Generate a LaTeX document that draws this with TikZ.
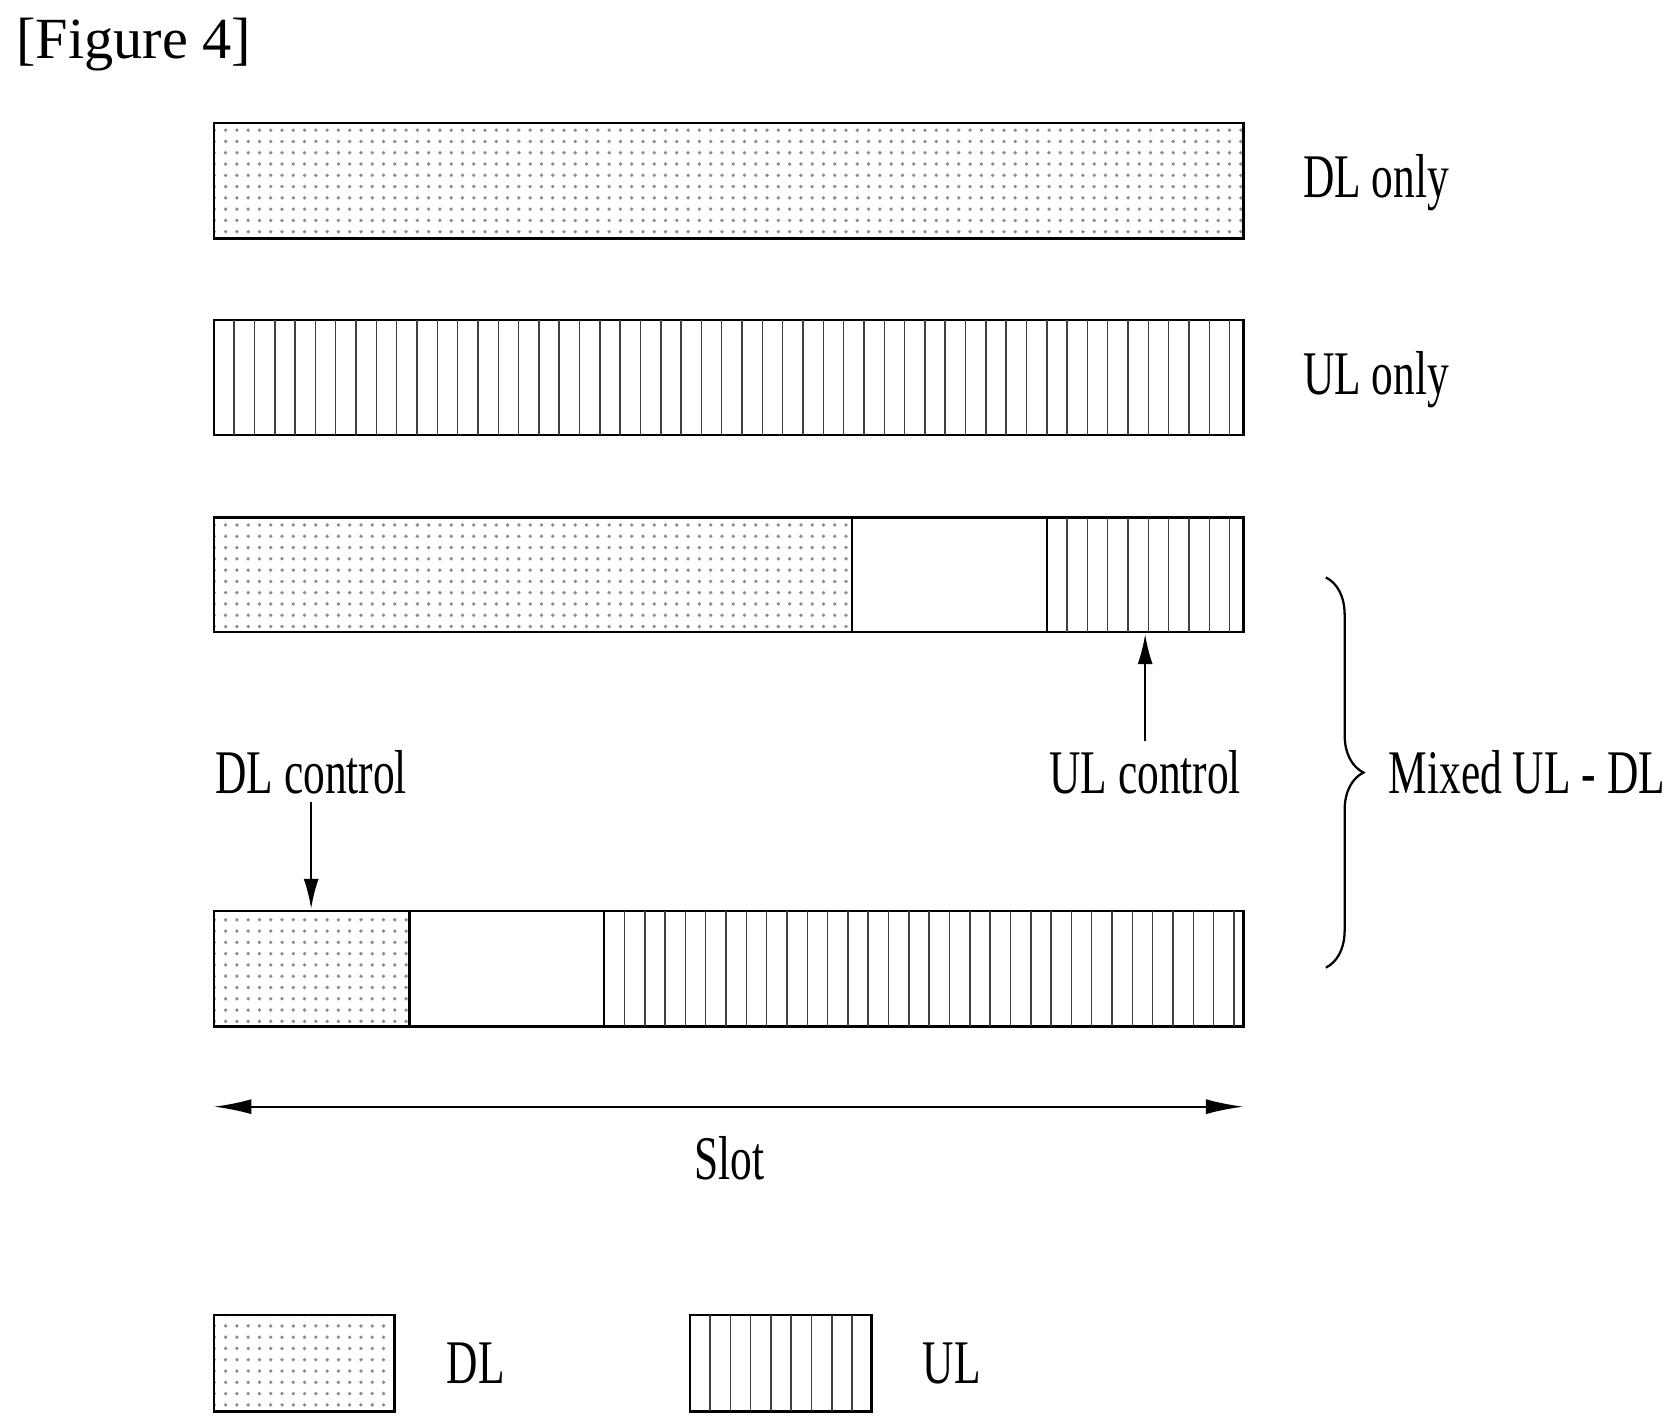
\documentclass[tikz,border=0pt]{standalone}
\usepackage{fontspec}
\setmainfont[FakeStretch=0.7]{Liberation Serif}
\newfontfamily\headfont{Liberation Serif}
\usetikzlibrary{patterns,decorations.pathreplacing,arrows.meta}
\tikzset{
    every node/.style={
        text=black
    },
    every path/.style={
        color=black,
        semithick
    }
}
\tikzstyle{dlpart}=[draw, pattern=dots, pattern color=black!45]
\tikzstyle{lbl}=[font=\fontsize{16.5}{20}\selectfont]
\tikzstyle{tip}=[-{Latex[length=8pt,width=4pt]}]
% vertical stripes for UL parts
\newcommand{\ulpart}[4]{%
  \draw (#1,#3) rectangle (#2,#4);
  \foreach \k in {1,...,60} {
    \pgfmathsetmacro\xx{#1+19*\k}
    \ifdim\xx pt<#2pt \draw[black!75,thin] (\xx,#3) -- (\xx,#4); \fi
  }
}

\begin{document}
\begin{tikzpicture}[x=0.01cm,y=-0.01cm]
\useasboundingbox (0,0) rectangle (1560,1335);

\node[font=\headfont\fontsize{15.5}{18}\selectfont] (fig) at (125,42) {[Figure 4]};

% DL only
\draw[dlpart] (200,115) rectangle (1163,223);
\node[lbl] (dlonly) at (1287,171) {DL only};

% UL only
\ulpart{200}{1163}{299}{407}
\node[lbl] (ulonly) at (1287,355) {UL only};

% mixed, UL control at end
\draw[dlpart] (200,484) rectangle (797,591);
\draw (797,484) rectangle (979,591);
\ulpart{979}{1163}{484}{591}
\coordinate (ulc) at (1071,593);
\node[lbl] (ulctl) at (1071,722) {UL control};
\draw[tip] (1071,693) -- (ulc);

% mixed, DL control at start
\draw[dlpart] (200,852) rectangle (383,960);
\draw (383,852) rectangle (565,960);
\ulpart{565}{1163}{852}{960}
\node[lbl] (dlctl) at (291,722) {DL control};
\coordinate (dlc) at (291,850);
\draw[tip] (291,750) -- (dlc);

% brace
\draw[decorate, decoration={brace, amplitude=10pt}] (1240,540) -- (1240,905);
\node[lbl, anchor=west] (mixed) at (1286,722) {Mixed UL - DL};

% slot
\coordinate (sl) at (200,1035);
\coordinate (sr) at (1163,1035);
\draw[{Latex[length=10pt,width=4pt]}-{Latex[length=10pt,width=4pt]}] (sl) -- (sr);
\node[lbl] (slot) at (682,1083) {Slot};

% legend
\draw[dlpart] (200,1230) rectangle (369,1320);
\node[lbl] (ldl) at (445,1275) {DL};
\ulpart{645}{815}{1230}{1320}
\node[lbl] (lul) at (890,1275) {UL};

\end{tikzpicture}
\end{document}
